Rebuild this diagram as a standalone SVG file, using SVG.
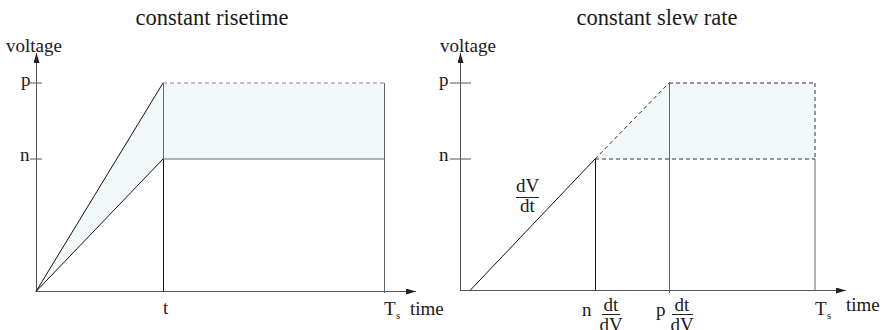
<svg xmlns="http://www.w3.org/2000/svg" width="884" height="330" viewBox="0 0 884 330">
<style>
text{font-family:"Liberation Serif","Times New Roman",serif;fill:#1a1a1a}
.title{font-size:22.5px;text-anchor:middle}
.lbl{font-size:19px}
.mid{text-anchor:middle}
.sub{font-size:11px}
.ax{stroke:#555;stroke-width:1;fill:none}
.blk{stroke:#111;stroke-width:1;fill:none}
.gr{stroke:#666;stroke-width:1;fill:none}
.dsh{stroke:#333;stroke-width:1;fill:none;stroke-dasharray:4 3}
.dshg{stroke:#888;stroke-width:1;fill:none;stroke-dasharray:4 3}
.fill{fill:#f0f8f8;stroke:none}
.bar{stroke:#222;stroke-width:1}
</style>
<defs>
<marker id="arr" viewBox="0 0 10 6" refX="10" refY="3" markerWidth="10" markerHeight="6" markerUnits="userSpaceOnUse" orient="auto">
<path d="M0,0 L10,3 L0,6 Z" fill="#222"/>
</marker>
</defs>
<rect width="884" height="330" fill="#fff"/>

<g id="left-panel">
<text class="title" x="212" y="25">constant risetime</text>
<polygon class="fill" points="36,291 163,83 163,159"/>
<rect class="fill" x="163" y="83" width="221" height="76"/>
<g id="left-axes">
<line class="ax" x1="36.5" y1="292" x2="36.5" y2="53" marker-end="url(#arr)"/>
<line class="ax" x1="36" y1="291.5" x2="416" y2="291.5" marker-end="url(#arr)"/>
<line class="ax" x1="30" y1="83" x2="42" y2="83"/>
<line class="ax" x1="30" y1="159" x2="42" y2="159"/>
</g>
<g id="left-curves">
<line class="blk" x1="36" y1="291.5" x2="163" y2="83"/>
<line class="blk" x1="36" y1="291.5" x2="163" y2="159"/>
<line class="gr" x1="163.5" y1="83" x2="163.5" y2="159"/>
<line class="blk" x1="163.5" y1="159" x2="163.5" y2="291.5"/>
<line class="dshg" x1="163" y1="83" x2="384" y2="83"/>
<line class="gr" x1="163" y1="159" x2="384" y2="159"/>
<line class="gr" x1="384.5" y1="83" x2="384.5" y2="293"/>
</g>
<text class="lbl" x="6" y="52">voltage</text>
<text class="lbl" x="21" y="86">p</text>
<text class="lbl" x="20" y="161">n</text>
<text class="lbl" x="163" y="314">t</text>
<text class="lbl" x="384" y="315">T</text>
<text class="sub" x="396" y="319">s</text>
<text class="lbl" x="410" y="315">time</text>
</g>

<g id="right-panel">
<text class="title" x="657" y="25">constant slew rate</text>
<polygon class="fill" points="595,159 669,83 815,83 815,159"/>
<g id="right-axes">
<line class="ax" x1="460.5" y1="291" x2="460.5" y2="53" marker-end="url(#arr)"/>
<line class="ax" x1="460" y1="290.5" x2="846" y2="290.5" marker-end="url(#arr)"/>
<line class="ax" x1="450" y1="83" x2="471" y2="83"/>
<line class="ax" x1="450" y1="159" x2="471" y2="159"/>
</g>
<g id="right-curves">
<line class="blk" x1="470" y1="290.5" x2="595" y2="159"/>
<line class="dsh" x1="595" y1="159" x2="669" y2="83"/>
<line class="blk" x1="595.5" y1="159" x2="595.5" y2="290.5"/>
<line class="gr" x1="669.5" y1="83" x2="669.5" y2="293"/>
<line class="dsh" x1="669" y1="83" x2="815" y2="83"/>
<line class="dsh" x1="595" y1="159" x2="815" y2="159"/>
<line class="dsh" x1="815" y1="83" x2="815" y2="159"/>
<line class="gr" x1="815" y1="159" x2="815" y2="290.5"/>
</g>
<text class="lbl" x="440" y="52">voltage</text>
<text class="lbl" x="439" y="86">p</text>
<text class="lbl" x="439" y="161">n</text>
<g id="slope-label">
<text class="lbl mid" x="527.5" y="192">dV</text>
<line class="bar" x1="516" y1="197.5" x2="539" y2="197.5"/>
<text class="lbl mid" x="527.5" y="212">dt</text>
</g>
<g id="n-label">
<text class="lbl" x="582" y="316">n</text>
<text class="lbl mid" x="611" y="311">dt</text>
<line class="bar" x1="602" y1="314.5" x2="620" y2="314.5"/>
<text class="lbl mid" x="611" y="331">dV</text>
</g>
<g id="p-label">
<text class="lbl" x="656" y="316">p</text>
<text class="lbl mid" x="682" y="311">dt</text>
<line class="bar" x1="672" y1="314.5" x2="693" y2="314.5"/>
<text class="lbl mid" x="682" y="331">dV</text>
</g>
<text class="lbl" x="815" y="315">T</text>
<text class="sub" x="827" y="319">s</text>
<text class="lbl" x="846" y="311">time</text>
</g>
</svg>
